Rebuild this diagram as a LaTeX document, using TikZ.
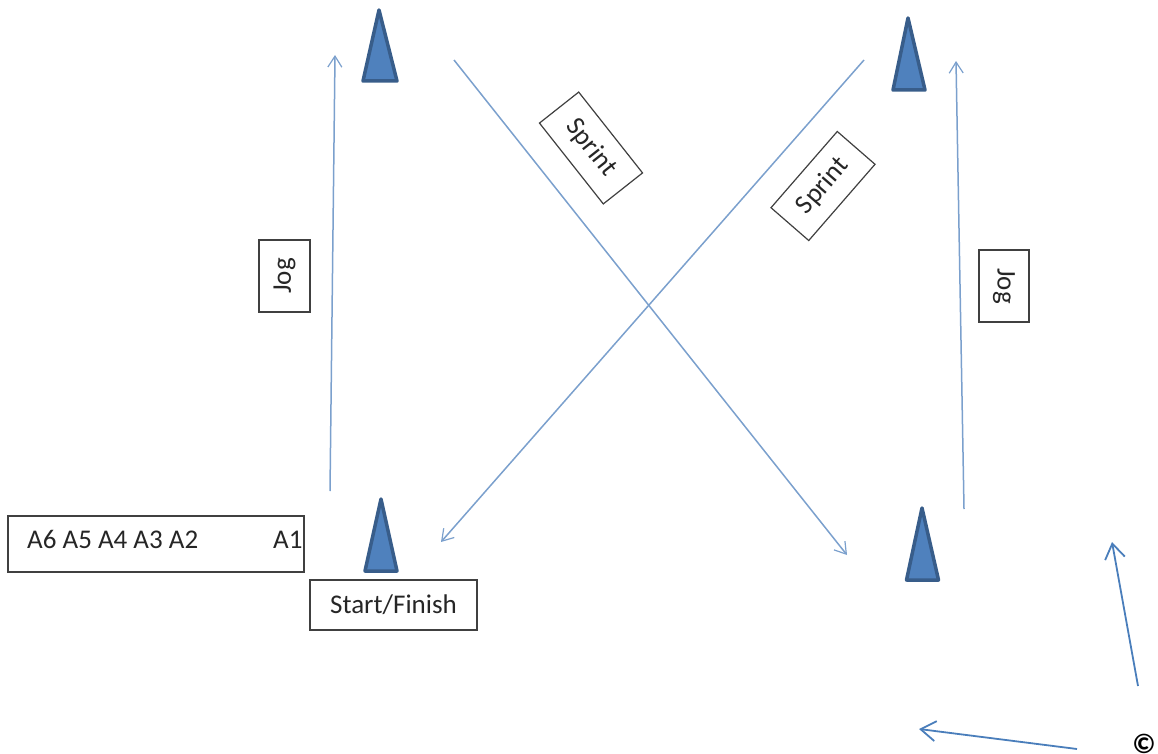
\documentclass[tikz,border=0pt]{standalone}
\usepackage{fontspec}
\setmainfont{Carlito}
\usetikzlibrary{arrows.meta}
\definecolor{thinblue}{HTML}{7BA0CD}
\definecolor{thickblue}{HTML}{4A7EBB}
\definecolor{conefill}{HTML}{4F81BD}
\definecolor{coneedge}{HTML}{385D8A}
\definecolor{boxedge}{HTML}{404040}
\tikzset{
  x=1pt,y=-1pt,
  labelbox/.style={draw=boxedge,line width=1.2pt,fill=white,inner sep=0pt,minimum height=50pt,font=\fontsize{27}{32}\selectfont,text=black!85},
  thinarrow/.style={draw=thinblue,line width=1.5pt,-{Straight Barb[length=11pt,width=14pt,line width=1.2pt]}},
  thickarrow/.style={draw=thickblue,line width=1.8pt,-{Straight Barb[length=15pt,width=20pt,line width=1.8pt]}},
  cone/.style={draw=coneedge,fill=conefill,line width=3.5pt,line join=round},
  plaintext/.style={inner sep=0pt,font=\fontsize{27}{32}\selectfont,text=black!85}
}
\begin{document}
\begin{tikzpicture}
\useasboundingbox (0,0) rectangle (1158,754);
% cones
\draw[cone] (379,10) -- (397,81) -- (363,81) -- cycle;
\draw[cone] (908,18) -- (925,90) -- (893,90) -- cycle;
\draw[cone] (381,499) -- (397,571) -- (365,571) -- cycle;
\draw[cone] (922,508) -- (938.5,580) -- (906.5,580) -- cycle;
% connector ends
\coordinate (jogLa) at (330,491);
\coordinate (jogLb) at (335,55);
\coordinate (jogRa) at (964,509);
\coordinate (jogRb) at (956,61);
\coordinate (crossAa) at (454,60);
\coordinate (crossAb) at (847,555);
\coordinate (crossBa) at (864,60);
\coordinate (crossBb) at (441,542);
\coordinate (northa) at (1138,686);
\coordinate (northb) at (1112,542);
\coordinate (westa) at (1077,749);
\coordinate (westb) at (919,729);
\draw[thinarrow] (jogLa) -- (jogLb);
\draw[thinarrow] (jogRa) -- (jogRb);
\draw[thinarrow] (crossAa) -- (crossAb);
\draw[thinarrow] (crossBa) -- (crossBb);
\draw[thickarrow] (northa) -- (northb);
\draw[thickarrow] (westa) -- (westb);
% labels
\node[labelbox,minimum width=72pt,minimum height=51pt,rotate=90] (jogL) at (284.5,276) {Jog};
\node[labelbox,minimum width=72pt,minimum height=50pt,rotate=-90] (jogR) at (1004,286) {Jog};
\node[labelbox,minimum width=103pt,rotate=-51.7] (sprintA) at (591,148) {Sprint};
\node[labelbox,minimum width=101pt,rotate=49] (sprintB) at (823,186) {Sprint};
\node[labelbox,minimum width=296pt,minimum height=56pt] (queue) at (156,544) {};
\node[plaintext,anchor=base west] (queueA) at (27,548) {A6 A5 A4 A3 A2};
\node[plaintext,anchor=base west] (queueB) at (273,548) {A1};
\node[labelbox,minimum width=167pt] (start) at (393.5,605) {Start/Finish};
\node[inner sep=0pt,font=\fontsize{28}{32}\selectfont\bfseries] (copy) at (1144,744) {©};
\end{tikzpicture}
\end{document}
